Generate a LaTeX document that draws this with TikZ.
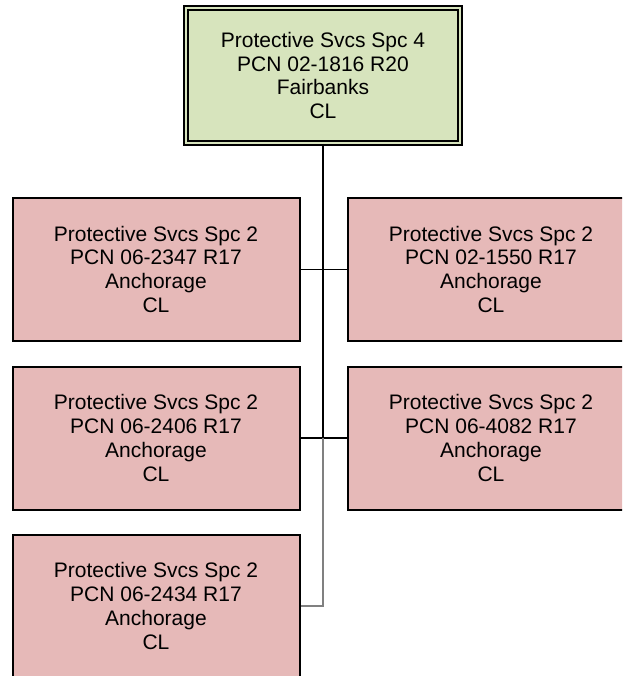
\documentclass[tikz,border=0pt]{standalone}
\usepackage{fontspec}
\setmainfont{Liberation Sans}
\usepackage{tikz}
\usetikzlibrary{positioning, math}
\definecolor{headgreen}{RGB}{215,228,189}
\definecolor{staffpink}{RGB}{230,185,184}
\newcommand{\orgfont}{\fontsize{21}{23.8}\selectfont}
\tikzset{%
  % supervisor box with double border
  headbox/.style={rectangle, draw, fill=headgreen, double=headgreen, line width=1.8pt, double distance=2.4pt,
    minimum width=274pt, minimum height=135pt, align=center, font=\orgfont},
  % position boxes below
  staffbox/.style={rectangle, draw, fill=staffpink, line width=2pt,
    minimum width=287pt, minimum height=143pt, align=center, font=\orgfont},
  orgline/.style={-, line width=1.4pt},
  orglinegray/.style={-, line width=1.4pt, draw=gray},
}
\begin{document}
\begin{tikzpicture}[x=1pt, y=-1pt]
  \useasboundingbox (0,0) rectangle (622,676);
  \clip (0,0) rectangle (622,676);
  \tikzmath{\colA = 156; \colB = 491; \rowA = 269.2; \rowB = 438; \rowC = 606;}
  \node[headbox] (head) at (323,75.5) {Protective Svcs Spc 4\\PCN 02-1816 R20\\Fairbanks\\CL};
  \foreach \nm/\x/\y/\pcn in {a1/\colA/\rowA/06-2347, b1/\colB/\rowA/02-1550,
      a2/\colA/\rowB/06-2406, b2/\colB/\rowB/06-4082, a3/\colA/\rowC/06-2434} {
    \node[staffbox] (\nm) at (\x,\y) {Protective Svcs Spc 2\\PCN \pcn{} R17\\Anchorage\\CL};
  }

  \coordinate (j2) at (head.south |- a2.east);
  \coordinate (j3) at (head.south |- a3.east);
  \draw[orgline] (head.south) -- (j2);
  \draw[orgline] (a1.east) -- (b1.west);
  \draw[orgline] (a2.east) -- (b2.west);
  \draw[orglinegray] (j2) -- (j3) -- (a3.east);
\end{tikzpicture}
\end{document}
